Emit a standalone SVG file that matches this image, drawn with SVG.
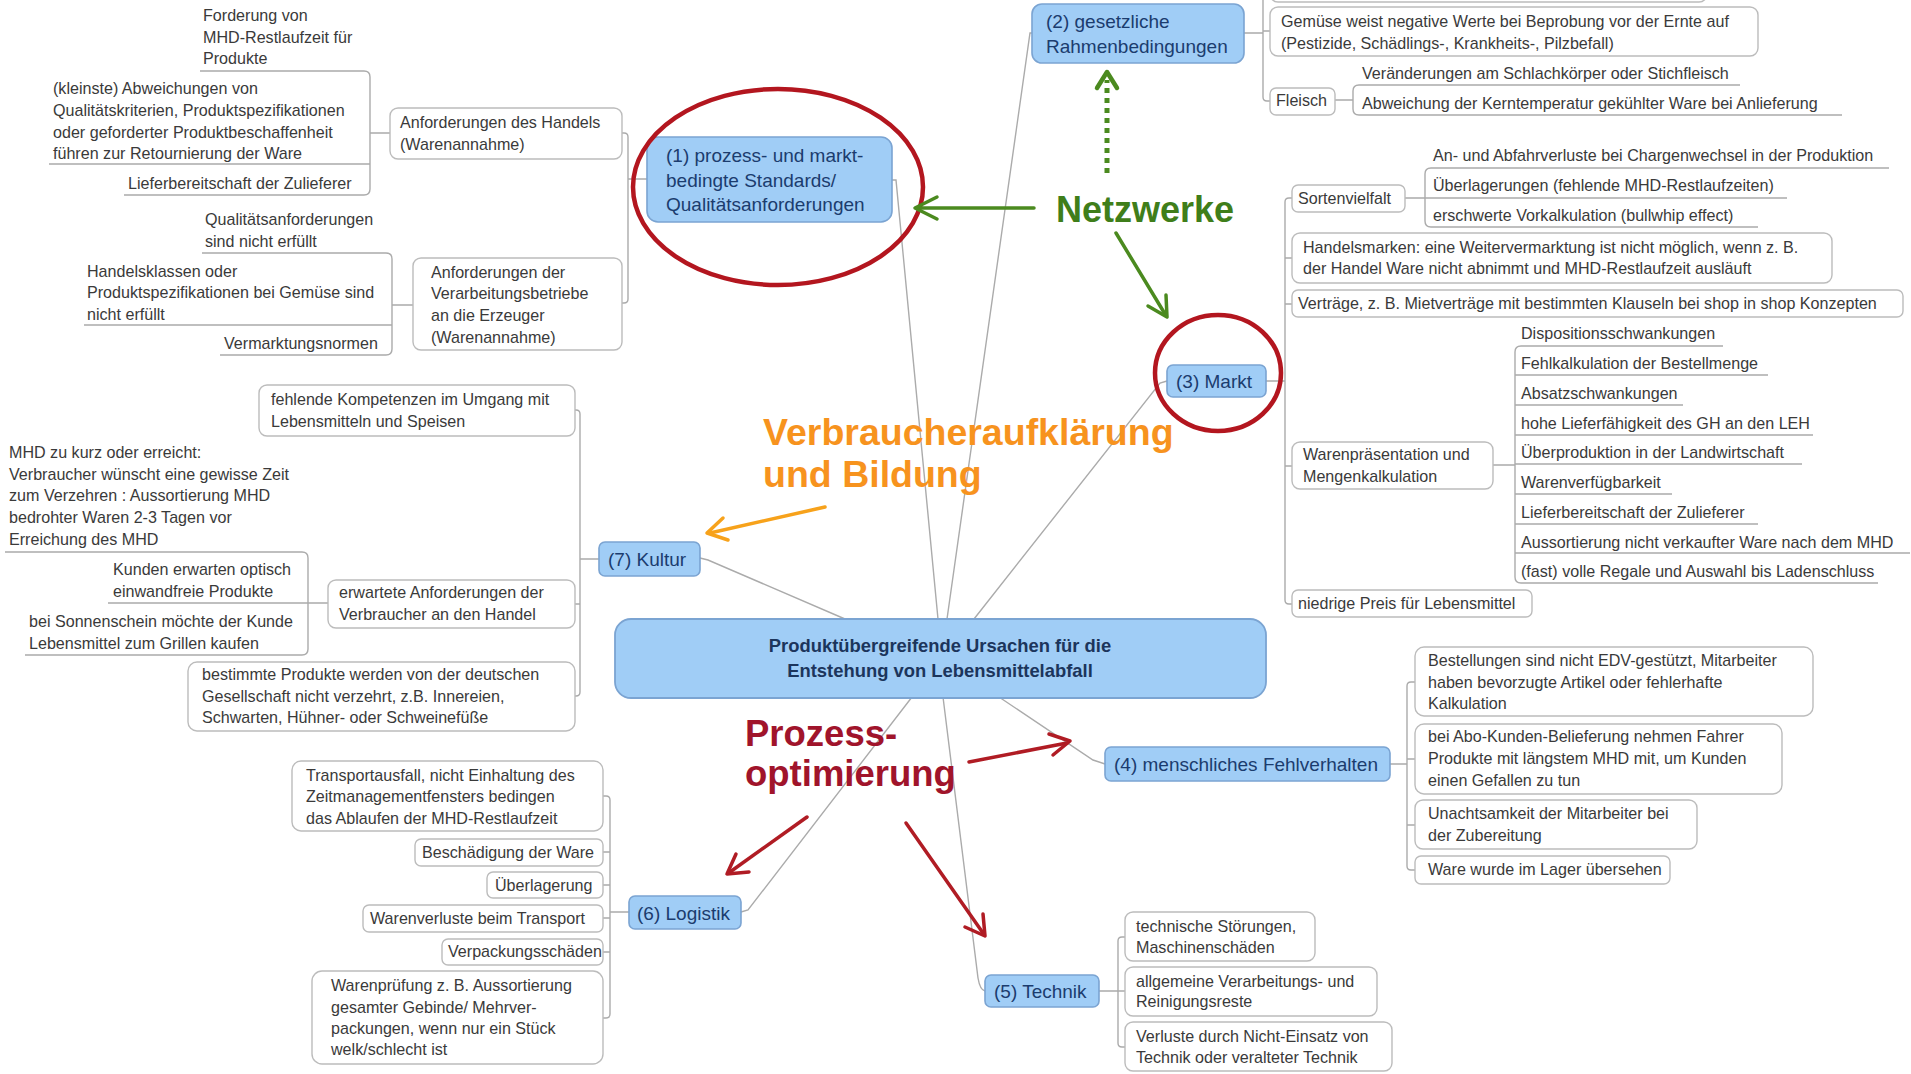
<svg xmlns="http://www.w3.org/2000/svg" width="1911" height="1074" viewBox="0 0 1911 1074">
<defs>
<style>
.bg{fill:#ffffff}
.topic rect{fill:#a0cdf6;stroke:#7ba4d2;stroke-width:1.6}
.topic text{font-family:"Liberation Sans",Arial,sans-serif;font-size:19px;fill:#1b3c6e}
.center rect{fill:#a0cdf6;stroke:#7ba4d2;stroke-width:1.8}
.center text{font-family:"Liberation Sans",Arial,sans-serif;font-size:18.4px;font-weight:bold;fill:#1c355c;text-anchor:middle}
.box rect{fill:#ffffff;stroke:#bcbcbc;stroke-width:1.4}
.box text,.sub text{font-family:"Liberation Sans",Arial,sans-serif;font-size:16.1px;fill:#3a3a3a}
.sub line{stroke:#b8b8b8;stroke-width:1.4}
.conn path{fill:none;stroke:#ababab;stroke-width:1.4}
.note{font-family:"Liberation Sans",Arial,sans-serif;font-weight:bold}
.ring{fill:none;stroke:#b3161f;stroke-width:4.5}
.arr{fill:none;stroke-linecap:round;stroke-linejoin:round}
</style>
</defs>
<rect class="bg" x="0" y="0" width="1911" height="1074"/>

<g id="connectors" class="conn">
<path d="M892,180 H896 L938,619"/>
<path d="M1032,33 H1030 L947,619"/>
<path d="M1167,381 L1160,383 L974,619"/>
<path d="M700,558 L708,560 L845,619"/>
<path d="M999,697 L1093,760 L1105,764"/>
<path d="M943,697 L978,978 Q980,990 985,991"/>
<path d="M912,697 L748,910 L741,912"/>
<path d="M622,133 H624 Q628,133 628,137 V299 Q628,303 624,303 H622 M628,179 H647"/>
<path d="M200,71 H364 Q370,71 370,77 V189 Q370,195 364,195 H124 M49,164 H370 M370,133 H390"/>
<path d="M202,253 H386 Q392,253 392,259 V349 Q392,355 386,355 H220 M84,325 H392 M392,305 H413"/>
<path d="M575,410 H576 Q580,410 580,414 V692 Q580,696 576,696 H575 M575,604 H580 M580,559 H599"/>
<path d="M5,552 H302 Q308,552 308,558 V649 Q308,655 302,655 H25 M108,603 H328"/>
<path d="M603,796 H606 Q610,796 610,800 V1014 Q610,1018 606,1018 H603 M603,852 H610 M603,885 H610 M603,918 H610 M603,952 H610 M610,912 H629"/>
<path d="M1125,937 H1122 Q1118,937 1118,941 V1043 Q1118,1047 1122,1047 H1125 M1118,991 H1125 M1099,991 H1118"/>
<path d="M1415,682 H1411 Q1407,682 1407,686 V866 Q1407,870 1411,870 H1415 M1407,759 H1415 M1407,825 H1415 M1390,764 H1407"/>
<path d="M1292,198 H1289 Q1285,198 1285,202 V600 Q1285,604 1289,604 H1292 M1285,258 H1292 M1285,304 H1292 M1285,466 H1292 M1266,381 H1285"/>
<path d="M1889,168 H1431 Q1425,168 1425,174 V221 Q1425,227 1431,227 H1758 M1425,198 H1787 M1405,198 H1425"/>
<path d="M1723,346 H1521 Q1515,346 1515,352 V577 Q1515,583 1521,583 H1878 M1515,375 H1768 M1515,405 H1683 M1515,435 H1813 M1515,464 H1802 M1515,494 H1672 M1515,524 H1758 M1515,553 H1910 M1493,465 H1515"/>
<path d="M1263,-20 V97 Q1263,101 1267,101 H1270 M1263,31 H1270 M1244,33 H1263"/>
<path d="M1740,85 H1359 Q1353,85 1353,91 V109 Q1353,115 1359,115 H1842 M1335,100 H1353"/>
</g>

<g id="central" class="center">
<rect x="615" y="619" width="651" height="79" rx="16"/>
<text x="940" y="652">Produktübergreifende Ursachen für die</text>
<text x="940" y="677">Entstehung von Lebensmittelabfall</text>
</g>

<g id="n1" class="topic">
<rect x="647" y="137" width="245" height="85" rx="11"/>
<text x="666" y="162">(1) prozess- und markt-</text>
<text x="666" y="187">bedingte Standards/</text>
<text x="666" y="211">Qualitätsanforderungen</text>
</g>
<g id="n1a" class="box">
<rect x="390" y="108" width="232" height="51" rx="8"/>
<text x="400" y="128">Anforderungen des Handels</text>
<text x="400" y="150">(Warenannahme)</text>
</g>
<g id="n1a1" class="sub">
<text x="203" y="21">Forderung von</text>
<text x="203" y="43">MHD-Restlaufzeit für</text>
<text x="203" y="64">Produkte</text>
</g>
<g id="n1a2" class="sub">
<text x="53" y="94">(kleinste) Abweichungen von</text>
<text x="53" y="116">Qualitätskriterien, Produktspezifikationen</text>
<text x="53" y="138">oder geforderter Produktbeschaffenheit</text>
<text x="53" y="159">führen zur Retournierung der Ware</text>
</g>
<g id="n1a3" class="sub">
<text x="128" y="189">Lieferbereitschaft der Zulieferer</text>
</g>
<g id="n1b" class="box">
<rect x="413" y="258" width="209" height="92" rx="8"/>
<text x="431" y="278">Anforderungen der</text>
<text x="431" y="299">Verarbeitungsbetriebe</text>
<text x="431" y="321">an die Erzeuger</text>
<text x="431" y="343">(Warenannahme)</text>
</g>
<g id="n1b1" class="sub">
<text x="205" y="225">Qualitätsanforderungen</text>
<text x="205" y="247">sind nicht erfüllt</text>
</g>
<g id="n1b2" class="sub">
<text x="87" y="277">Handelsklassen oder</text>
<text x="87" y="298">Produktspezifikationen bei Gemüse sind</text>
<text x="87" y="320">nicht erfüllt</text>
</g>
<g id="n1b3" class="sub">
<text x="224" y="349">Vermarktungsnormen</text>
</g>

<g id="n2" class="topic">
<rect x="1032" y="4" width="212" height="59" rx="10"/>
<text x="1046" y="28">(2) gesetzliche</text>
<text x="1046" y="53">Rahmenbedingungen</text>
</g>
<g id="n2a" class="box">
<rect x="1270" y="-30" width="437" height="32" rx="8"/>
</g>
<g id="n2b" class="box">
<rect x="1270" y="7" width="488" height="49" rx="8"/>
<text x="1281" y="27">Gemüse weist negative Werte bei Beprobung vor der Ernte auf</text>
<text x="1281" y="49">(Pestizide, Schädlings-, Krankheits-, Pilzbefall)</text>
</g>
<g id="n2c" class="box">
<rect x="1270" y="88" width="65" height="27" rx="6"/>
<text x="1276" y="106">Fleisch</text>
</g>
<g id="n2c1" class="sub">
<text x="1362" y="79">Veränderungen am Schlachkörper oder Stichfleisch</text>
</g>
<g id="n2c2" class="sub">
<text x="1362" y="109">Abweichung der Kerntemperatur gekühlter Ware bei Anlieferung</text>
</g>

<g id="n3" class="topic">
<rect x="1167" y="365" width="99" height="32" rx="6"/>
<text x="1176" y="388">(3) Markt</text>
</g>
<g id="n3a" class="box">
<rect x="1292" y="185" width="113" height="27" rx="6"/>
<text x="1298" y="204">Sortenvielfalt</text>
</g>
<g id="n3a1" class="sub"><text x="1433" y="161">An- und Abfahrverluste bei Chargenwechsel in der Produktion</text></g>
<g id="n3a2" class="sub"><text x="1433" y="191">Überlagerungen (fehlende MHD-Restlaufzeiten)</text></g>
<g id="n3a3" class="sub"><text x="1433" y="221">erschwerte Vorkalkulation (bullwhip effect)</text></g>
<g id="n3b" class="box">
<rect x="1292" y="233" width="540" height="50" rx="8"/>
<text x="1303" y="253">Handelsmarken: eine Weitervermarktung ist nicht möglich, wenn z. B.</text>
<text x="1303" y="274">der Handel Ware nicht abnimmt und MHD-Restlaufzeit ausläuft</text>
</g>
<g id="n3c" class="box">
<rect x="1292" y="290" width="611" height="27" rx="6"/>
<text x="1298" y="309">Verträge, z. B. Mietverträge mit bestimmten Klauseln bei shop in shop Konzepten</text>
</g>
<g id="n3d" class="box">
<rect x="1292" y="442" width="201" height="47" rx="8"/>
<text x="1303" y="460">Warenpräsentation und</text>
<text x="1303" y="482">Mengenkalkulation</text>
</g>
<g id="n3d1" class="sub"><text x="1521" y="339">Dispositionsschwankungen</text></g>
<g id="n3d2" class="sub"><text x="1521" y="369">Fehlkalkulation der Bestellmenge</text></g>
<g id="n3d3" class="sub"><text x="1521" y="399">Absatzschwankungen</text></g>
<g id="n3d4" class="sub"><text x="1521" y="429">hohe Lieferfähigkeit des GH an den LEH</text></g>
<g id="n3d5" class="sub"><text x="1521" y="458">Überproduktion in der Landwirtschaft</text></g>
<g id="n3d6" class="sub"><text x="1521" y="488">Warenverfügbarkeit</text></g>
<g id="n3d7" class="sub"><text x="1521" y="518">Lieferbereitschaft der Zulieferer</text></g>
<g id="n3d8" class="sub"><text x="1521" y="548">Aussortierung nicht verkaufter Ware nach dem MHD</text></g>
<g id="n3d9" class="sub"><text x="1521" y="577">(fast) volle Regale und Auswahl bis Ladenschluss</text></g>
<g id="n3e" class="box">
<rect x="1292" y="590" width="240" height="27" rx="6"/>
<text x="1298" y="609">niedrige Preis für Lebensmittel</text>
</g>

<g id="n4" class="topic">
<rect x="1105" y="747" width="285" height="34" rx="6"/>
<text x="1114" y="771">(4) menschliches Fehlverhalten</text>
</g>
<g id="n4a" class="box">
<rect x="1415" y="647" width="398" height="69" rx="9"/>
<text x="1428" y="666">Bestellungen sind nicht EDV-gestützt, Mitarbeiter</text>
<text x="1428" y="688">haben bevorzugte Artikel oder fehlerhafte</text>
<text x="1428" y="709">Kalkulation</text>
</g>
<g id="n4b" class="box">
<rect x="1415" y="724" width="367" height="70" rx="9"/>
<text x="1428" y="742">bei Abo-Kunden-Belieferung nehmen Fahrer</text>
<text x="1428" y="764">Produkte mit längstem MHD mit, um Kunden</text>
<text x="1428" y="786">einen Gefallen zu tun</text>
</g>
<g id="n4c" class="box">
<rect x="1415" y="800" width="282" height="49" rx="8"/>
<text x="1428" y="819">Unachtsamkeit der Mitarbeiter bei</text>
<text x="1428" y="841">der Zubereitung</text>
</g>
<g id="n4d" class="box">
<rect x="1415" y="856" width="255" height="28" rx="6"/>
<text x="1428" y="875">Ware wurde im Lager übersehen</text>
</g>

<g id="n5" class="topic">
<rect x="985" y="975" width="114" height="32" rx="6"/>
<text x="994" y="998">(5) Technik</text>
</g>
<g id="n5a" class="box">
<rect x="1125" y="912" width="190" height="49" rx="8"/>
<text x="1136" y="932">technische Störungen,</text>
<text x="1136" y="953">Maschinenschäden</text>
</g>
<g id="n5b" class="box">
<rect x="1125" y="967" width="252" height="49" rx="8"/>
<text x="1136" y="987">allgemeine Verarbeitungs- und</text>
<text x="1136" y="1007">Reinigungsreste</text>
</g>
<g id="n5c" class="box">
<rect x="1125" y="1022" width="267" height="49" rx="8"/>
<text x="1136" y="1042">Verluste durch Nicht-Einsatz von</text>
<text x="1136" y="1063">Technik oder veralteter Technik</text>
</g>

<g id="n6" class="topic">
<rect x="629" y="896" width="112" height="33" rx="6"/>
<text x="637" y="920">(6) Logistik</text>
</g>
<g id="n6a" class="box">
<rect x="292" y="761" width="311" height="70" rx="9"/>
<text x="306" y="781">Transportausfall, nicht Einhaltung des</text>
<text x="306" y="802">Zeitmanagementfensters bedingen</text>
<text x="306" y="824">das Ablaufen der MHD-Restlaufzeit</text>
</g>
<g id="n6b" class="box">
<rect x="415" y="839" width="188" height="27" rx="6"/>
<text x="422" y="858">Beschädigung der Ware</text>
</g>
<g id="n6c" class="box">
<rect x="487" y="872" width="116" height="26" rx="6"/>
<text x="495" y="891">Überlagerung</text>
</g>
<g id="n6d" class="box">
<rect x="363" y="905" width="240" height="27" rx="6"/>
<text x="370" y="924">Warenverluste beim Transport</text>
</g>
<g id="n6e" class="box">
<rect x="442" y="939" width="161" height="26" rx="6"/>
<text x="448" y="957">Verpackungsschäden</text>
</g>
<g id="n6f" class="box">
<rect x="312" y="971" width="291" height="93" rx="10"/>
<text x="331" y="991">Warenprüfung z. B. Aussortierung</text>
<text x="331" y="1013">gesamter Gebinde/ Mehrver-</text>
<text x="331" y="1034">packungen, wenn nur ein Stück</text>
<text x="331" y="1055">welk/schlecht ist</text>
</g>

<g id="n7" class="topic">
<rect x="599" y="542" width="101" height="34" rx="6"/>
<text x="608" y="566">(7) Kultur</text>
</g>
<g id="n7a" class="box">
<rect x="259" y="385" width="316" height="51" rx="8"/>
<text x="271" y="405">fehlende Kompetenzen im Umgang mit</text>
<text x="271" y="427">Lebensmitteln und Speisen</text>
</g>
<g id="n7b" class="box">
<rect x="328" y="580" width="247" height="48" rx="8"/>
<text x="339" y="598">erwartete Anforderungen der</text>
<text x="339" y="620">Verbraucher an den Handel</text>
</g>
<g id="n7b1" class="sub">
<text x="9" y="458">MHD zu kurz oder erreicht:</text>
<text x="9" y="480">Verbraucher wünscht eine gewisse Zeit</text>
<text x="9" y="501">zum Verzehren : Aussortierung MHD</text>
<text x="9" y="523">bedrohter Waren 2-3 Tagen vor</text>
<text x="9" y="545">Erreichung des MHD</text>
</g>
<g id="n7b2" class="sub">
<text x="113" y="575">Kunden erwarten optisch</text>
<text x="113" y="597">einwandfreie Produkte</text>
</g>
<g id="n7b3" class="sub">
<text x="29" y="627">bei Sonnenschein möchte der Kunde</text>
<text x="29" y="649">Lebensmittel zum Grillen kaufen</text>
</g>
<g id="n7c" class="box">
<rect x="188" y="662" width="387" height="69" rx="9"/>
<text x="202" y="680">bestimmte Produkte werden von der deutschen</text>
<text x="202" y="702">Gesellschaft nicht verzehrt, z.B. Innereien,</text>
<text x="202" y="723">Schwarten, Hühner- oder Schweinefüße</text>
</g>

<g id="annotations">
<ellipse class="ring" cx="778" cy="187" rx="145" ry="98"/>
<ellipse class="ring" cx="1218" cy="373" rx="63" ry="58"/>

<text class="note" x="1056" y="222" font-size="36" fill="#3f7e1a">Netzwerke</text>
<g class="arr" stroke="#4b8a1f" stroke-width="3.5">
<line x1="1034" y1="208" x2="917" y2="208"/>
<polyline points="937,197 915,208 937,219"/>
<line x1="1116" y1="233" x2="1165" y2="314"/>
<polyline points="1148,306 1167,317 1166,295"/>
<line x1="1107" y1="173" x2="1107" y2="80" stroke-width="5" stroke-dasharray="5 5" stroke-linecap="butt"/>
<polyline points="1097,88 1107,72 1117,88" stroke-width="4.5"/>
</g>

<text class="note" x="763" y="445" font-size="37.5" fill="#f7931e">Verbraucheraufklärung</text>
<text class="note" x="763" y="487" font-size="37.5" fill="#f7931e">und Bildung</text>
<g class="arr" stroke="#f7a21b" stroke-width="3.5">
<line x1="825" y1="507" x2="710" y2="533"/>
<polyline points="723,518 707,533 728,540"/>
</g>

<text class="note" x="745" y="746" font-size="36.5" fill="#a0142b">Prozess-</text>
<text class="note" x="745" y="786" font-size="36.5" fill="#a0142b">optimierung</text>
<g class="arr" stroke="#b01c24" stroke-width="3.5">
<line x1="807" y1="817" x2="730" y2="872"/>
<polyline points="736,854 727,874 749,872"/>
<line x1="969" y1="762" x2="1067" y2="743"/>
<polyline points="1049,734 1070,741 1053,755"/>
<line x1="906" y1="823" x2="983" y2="933"/>
<polyline points="965,927 985,936 983,914"/>
</g>
</g>
</svg>
